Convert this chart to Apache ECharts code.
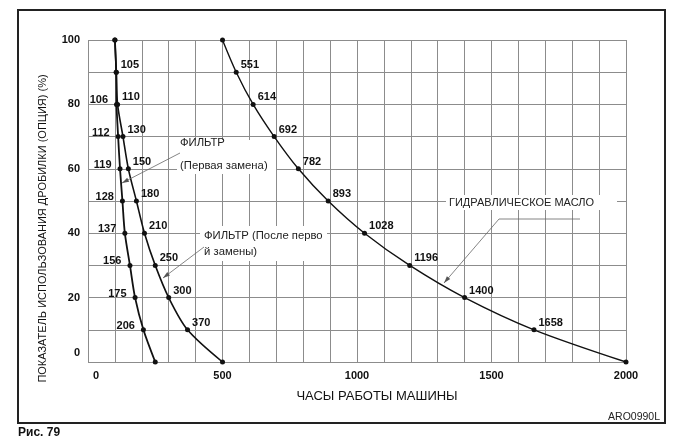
<!DOCTYPE html>
<html>
<head>
<meta charset="utf-8">
<script src="https://cdn.jsdelivr.net/npm/echarts@6/dist/echarts.min.js"></script>
<style>
html,body{margin:0;padding:0;background:#fff;}
#c{width:700px;height:446px;}
</style>
</head>
<body>
<div id="c"></div>
<script>
// ---- data ----
const usagePct = [100, 90, 80, 70, 60, 50, 40, 30, 20, 10, 0];
const filterFirstHours = [100, 105, 106, 112, 119, 128, 137, 156, 175, 206, 250];
const filterAfterHours = [100, 105, 110, 130, 150, 180, 210, 250, 300, 370, 500];
const oilHours = [500, 551, 614, 692, 782, 893, 1028, 1196, 1400, 1658, 2000];
const xTickLabels = [0, 500, 1000, 1500, 2000];
const yTickLabels = [0, 20, 40, 60, 80, 100];

const xAxisName = 'ЧАСЫ РАБОТЫ МАШИНЫ';
const yAxisName = 'ПОКАЗАТЕЛЬ ИСПОЛЬЗОВАНИЯ ДРОБИЛКИ (ОПЦИЯ) (%)';

const FONT = 'Liberation Sans, Arial, sans-serif';

function mkData(hours, showFrom, showTo) {
  return hours.map((h, i) => ({
    value: [h, usagePct[i]],
    label: { show: i >= showFrom && i <= showTo }
  }));
}

const chart = echarts.init(document.getElementById('c'), null, {renderer: 'canvas'});

const labelRight = {
  position: 'right', distance: 2, offset: [0, -7],
  formatter: p => p.value[0],
  color: '#111', fontWeight: 'bold', fontSize: 11, fontFamily: FONT
};
const labelLeft = {
  position: 'left', distance: 6, offset: [0, -4],
  formatter: p => p.value[0],
  color: '#111', fontWeight: 'bold', fontSize: 11, fontFamily: FONT
};

function arrow(x1, y1, x2, y2) {
  const a = Math.atan2(y2 - y1, x2 - x1);
  const L = 7, W = 2.2;
  const bx = x2 - L * Math.cos(a), by = y2 - L * Math.sin(a);
  const px = -Math.sin(a) * W, py = Math.cos(a) * W;
  return {
    type: 'polygon', silent: true, z: 20,
    shape: { points: [[x2, y2], [bx + px, by + py], [bx - px, by - py]] },
    style: { fill: '#555' }
  };
}

const annoText = { fill: '#222', fontSize: 11.3, fontFamily: FONT };

const graphics = [
  // outer frame
  { type: 'rect', shape: { x: 18, y: 10, width: 647, height: 413 },
    style: { fill: 'none', stroke: '#222', lineWidth: 2 }, z: 30 },
  { type: 'text', x: 660, y: 417, style: Object.assign({ text: 'ARO0990L', textAlign: 'right', textVerticalAlign: 'middle' }, annoText, { fontSize: 10.5 }), z: 30 },
  { type: 'text', x: 18, y: 433, style: { text: 'Рис. 79', fill: '#111', fontSize: 12, fontWeight: 'bold', fontFamily: FONT, textVerticalAlign: 'middle' }, z: 30 },

  // annotation 1
  { type: 'rect', shape: { x: 177, y: 140, width: 99, height: 34 }, style: { fill: '#fff' }, z: 10 },
  { type: 'text', x: 180, y: 143, style: Object.assign({ text: 'ФИЛЬТР', textVerticalAlign: 'middle' }, annoText), z: 11 },
  { type: 'text', x: 180, y: 166, style: Object.assign({ text: '(Первая замена)', textVerticalAlign: 'middle' }, annoText), z: 11 },
  { type: 'line', shape: { x1: 180, y1: 153, x2: 122, y2: 183 }, style: { stroke: '#666', lineWidth: 0.8 }, z: 20 },
  arrow(180, 153, 122, 183),

  // annotation 2
  { type: 'rect', shape: { x: 200, y: 226, width: 127, height: 35 }, style: { fill: '#fff' }, z: 10 },
  { type: 'text', x: 204, y: 236, style: Object.assign({ text: 'ФИЛЬТР (После перво', textVerticalAlign: 'middle' }, annoText), z: 11 },
  { type: 'text', x: 204, y: 252, style: Object.assign({ text: 'й замены)', textVerticalAlign: 'middle' }, annoText), z: 11 },
  { type: 'line', shape: { x1: 204, y1: 247, x2: 163, y2: 278 }, style: { stroke: '#666', lineWidth: 0.8 }, z: 20 },
  arrow(204, 247, 163, 278),

  // annotation 3
  { type: 'rect', shape: { x: 446, y: 195, width: 171, height: 15 }, style: { fill: '#fff' }, z: 10 },
  { type: 'text', x: 449, y: 203, style: Object.assign({ text: 'ГИДРАВЛИЧЕСКОЕ МАСЛО', textVerticalAlign: 'middle' }, annoText, { fontSize: 11 }), z: 11 },
  { type: 'polyline', shape: { points: [[580, 219], [499, 219], [444, 283]] }, style: { stroke: '#666', lineWidth: 0.8, fill: 'none' }, z: 20 },
  arrow(499, 219, 444, 283)
];

const option = {
  animation: false,
  backgroundColor: '#fff',
  grid: { left: 88, right: 74, top: 40, bottom: 84, containLabel: false },
  xAxis: {
    type: 'value', min: 0, max: 2000, interval: 100,
    name: xAxisName, nameLocation: 'middle', nameGap: 28,
    nameTextStyle: { color: '#111', fontSize: 13, fontFamily: FONT, padding: [0, 0, 0, 40] },
    axisLine: { show: false }, axisTick: { show: false },
    axisLabel: {
      margin: 8, color: '#111', fontWeight: 'bold', fontSize: 11, fontFamily: FONT,
      formatter: v => v === 0 ? '{z|0}' : (xTickLabels.indexOf(v) >= 0 ? String(v) : ''),
      rich: { z: { padding: [0, 0, 0, 16], fontWeight: 'bold', fontSize: 11, fontFamily: FONT, color: '#111' } }
    },
    splitLine: { show: true, lineStyle: { color: '#8c8c8c', width: 1 } }
  },
  yAxis: {
    type: 'value', min: 0, max: 100, interval: 10,
    name: yAxisName, nameLocation: 'middle', nameGap: 40, nameRotate: 90,
    nameTextStyle: { color: '#111', fontSize: 11, fontFamily: FONT, padding: [0, 55, 0, 0] },
    axisLine: { show: false }, axisTick: { show: false },
    axisLabel: {
      margin: 8, color: '#111', fontWeight: 'bold', fontSize: 11, fontFamily: FONT,
      formatter: v => v === 0 ? '{z|0}' : (yTickLabels.indexOf(v) >= 0 ? String(v) : ''),
      rich: { z: { padding: [0, 0, 18, 0], fontWeight: 'bold', fontSize: 11, fontFamily: FONT, color: '#111' } }
    },
    splitLine: { show: true, lineStyle: { color: '#8c8c8c', width: 1 } }
  },
  series: [
    {
      name: 'ФИЛЬТР (Первая замена)', type: 'line', smooth: 0.3,
      data: mkData(filterFirstHours, 2, 9),
      symbol: 'circle', symbolSize: 5,
      itemStyle: { color: '#111' }, lineStyle: { color: '#111', width: 1.8 },
      label: labelLeft, z: 5
    },
    {
      name: 'ФИЛЬТР (После первой замены)', type: 'line', smooth: 0.3,
      data: mkData(filterAfterHours, 1, 9),
      symbol: 'circle', symbolSize: 5,
      itemStyle: { color: '#111' }, lineStyle: { color: '#111', width: 1.6 },
      label: labelRight, z: 5
    },
    {
      name: 'ГИДРАВЛИЧЕСКОЕ МАСЛО', type: 'line', smooth: 0.3,
      data: mkData(oilHours, 1, 9),
      symbol: 'circle', symbolSize: 5,
      itemStyle: { color: '#111' }, lineStyle: { color: '#111', width: 1.4 },
      label: labelRight, z: 5
    }
  ],
  graphic: graphics
};
chart.setOption(option);
</script>
</body>
</html>
